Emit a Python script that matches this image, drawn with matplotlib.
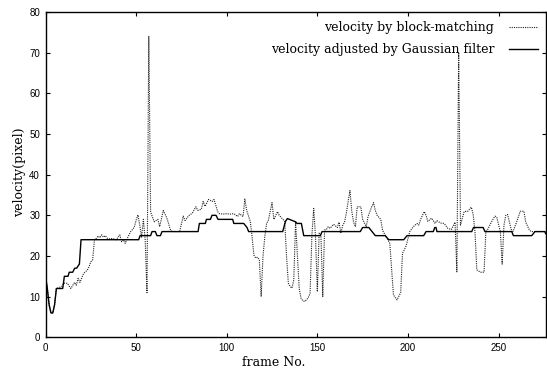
import matplotlib.pyplot as plt
import numpy as np

# velocity by block-matching (vertices)
bm_frame = [0, 1, 2, 3, 4, 5, 6, 9, 10, 12, 14, 16, 17, 18, 19, 21, 23, 24, 25, 26,
            27, 28, 29, 30, 31, 32, 33, 34, 35, 37, 39, 41, 42, 43, 44, 45, 47, 48, 49, 50,
            51, 52, 53, 54, 55, 56, 57, 58, 60, 62, 63, 65, 67, 69, 70, 72, 74, 76, 77, 79,
            81, 83, 84, 86, 87, 88, 90, 92, 93, 95, 96, 98, 100, 102, 104, 106, 107, 109, 110, 111,
            113, 114, 115, 116, 117, 118, 119, 120, 121, 122, 123, 125, 126, 128, 129, 131, 132, 133, 134, 135,
            136, 137, 138, 139, 140, 141, 142, 143, 144, 145, 146, 147, 148, 149, 150, 151, 152, 153, 154, 155,
            156, 157, 159, 161, 162, 163, 164, 165, 166, 167, 168, 169, 170, 171, 172, 174, 175, 177, 178, 180,
            181, 182, 183, 185, 186, 188, 190, 191, 192, 194, 195, 196, 197, 198, 199, 201, 203, 205, 206, 207,
            209, 210, 211, 213, 215, 216, 218, 220, 222, 224, 226, 227, 228, 229, 231, 233, 235, 236, 237, 238,
            240, 242, 243, 244, 246, 248, 249, 251, 252, 253, 254, 255, 257, 258, 260, 262, 264, 265, 267, 268,
            272, 276]
bm_vel = [15, 12, 8, 6, 6, 8, 12, 12.5, 13.3, 13.3, 12, 13.5, 12.8, 14.5, 13.5, 15.7, 16.5, 17.3, 18.6, 19,
          24, 24.3, 24.9, 24.5, 25.2, 24.6, 25, 24.4, 24.2, 24.3, 24.0, 25.2, 23.5, 24, 23.1, 24.2, 26, 26.5, 27.1, 28.8,
          30.1, 27.6, 24.5, 29, 24, 11, 74, 30.8, 28.4, 29.0, 27.2, 31.2, 29.3, 26.3, 26, 26, 26, 29.8, 28.7, 29.9,
          30.5, 32.1, 31.2, 31.5, 33.4, 32.2, 33.9, 33.4, 33.9, 30.9, 30.4, 30.3, 30.4, 30.3, 30.4, 29.7, 30.4, 29.7, 34, 31.2,
          28.5, 24.7, 20.2, 19.5, 19.7, 19, 10, 19.8, 24.7, 28, 28.8, 33.1, 29, 30.9, 30, 29, 28.6, 20, 13.3, 12.5,
          12.1, 14.1, 28.4, 20, 12, 9.6, 9, 8.8, 9.2, 9.8, 10.8, 25, 31.7, 24.7, 11.2, 25.6, 25, 10, 26.4, 26.5,
          27.2, 26.8, 27.8, 27, 28.3, 25.6, 27.5, 28.3, 30.5, 33.4, 36.1, 31, 28.3, 27.2, 32.1, 32.1, 29, 27.2, 29.7, 32.1,
          33.1, 31.2, 30, 29, 26.3, 24.7, 23.1, 16.6, 10.4, 9.2, 10.1, 11, 20.7, 21.5, 22.5, 26, 27.2, 28, 27.6, 29,
          30.9, 30, 28.5, 29.3, 28, 28.7, 28.1, 28, 26.8, 26.5, 28.3, 16.1, 70, 27.6, 30.9, 31, 32, 30.2, 26, 16.6,
          16, 16, 26, 26.5, 28.3, 29.8, 29.5, 26, 18, 27.6, 30, 30.2, 26.5, 26, 28.4, 31, 31, 28.3, 26.4, 26,
          26, 26]

# velocity adjusted by Gaussian filter
gf_frame = [0, 1, 2, 3, 4, 5, 6, 9.5, 10.4, 12.4, 13.1, 15, 16.1, 17.2, 17.9, 18.7, 19.6, 51.4, 52.2, 58,
            58.8, 60.6, 61.5, 63.4, 64.3, 84.2, 84.9, 88.2, 88.8, 91, 91.9, 94.1, 95.2, 103.3, 103.9, 109.4, 111.2, 112.1, 130.9, 132.4,
            133.5, 138, 138.8, 141.2, 142.5, 151.7, 152.6, 173.7, 175, 178.4, 180.2, 182, 187.5, 189.4, 197.7, 199.5, 208.7, 210, 214, 214.8,
            215.5, 216, 235.2, 236.2, 241.5, 242.5, 257.3, 258.2, 268.3, 270.1, 275.5, 276]
gf_vel = [15, 12, 8, 6, 6, 8, 12, 12, 15, 15, 16, 16, 17, 17, 17.5, 18, 24, 24, 25, 25,
          26, 26, 25, 25, 26, 26, 28, 28, 29, 29, 30, 30, 29, 29, 28, 28, 27, 26, 26, 28.5,
          29.2, 28.4, 28, 28, 25, 25, 26, 26, 27, 27, 26, 25, 25, 24, 24, 25, 25, 26, 26, 27,
          27, 26, 26, 27, 27, 26, 26, 25, 25, 26, 26, 25.5]

x_ticks = [0, 50, 100, 150, 200, 250]
y_ticks = [0, 10, 20, 30, 40, 50, 60, 70, 80]

serif = ['DejaVu Serif']

fig = plt.figure(figsize=(5.47, 3.81), dpi=100)
ax = fig.add_axes([0.0832, 0.1147, 0.915, 0.8538])

ax.plot(bm_frame, bm_vel, color='#222222', linestyle=(0, (1, 1)), linewidth=0.8,
        label='velocity by block-matching')
ax.plot(gf_frame, gf_vel, color='black', linewidth=1.0,
        label='velocity adjusted by Gaussian filter')

ax.set_xlim(0, 276.2)
ax.set_ylim(0, 80)
ax.set_xticks(x_ticks)
ax.set_yticks(y_ticks)
ax.tick_params(direction='in', length=3, width=0.8, top=True, right=True,
               labelsize=7, pad=4)
for lab in ax.get_xticklabels() + ax.get_yticklabels():
    lab.set_family('Liberation Sans')
for sp in ax.spines.values():
    sp.set_linewidth(1.0)

ax.set_xlabel('frame No.', family=serif, fontsize=9)
ax.xaxis.set_label_coords(0.4555, -0.058)
ax.set_ylabel('velocity(pixel)', family=serif, fontsize=9)
ax.yaxis.set_label_coords(-0.038, 0.507)

ax.legend(loc='upper right', bbox_to_anchor=(0.984, 0.972), frameon=False,
          markerfirst=False, prop={'family': serif, 'size': 9},
          handlelength=2.3, handletextpad=1.2, labelspacing=0.75,
          borderpad=0, borderaxespad=0)

fig.savefig('out.png', dpi=100)
